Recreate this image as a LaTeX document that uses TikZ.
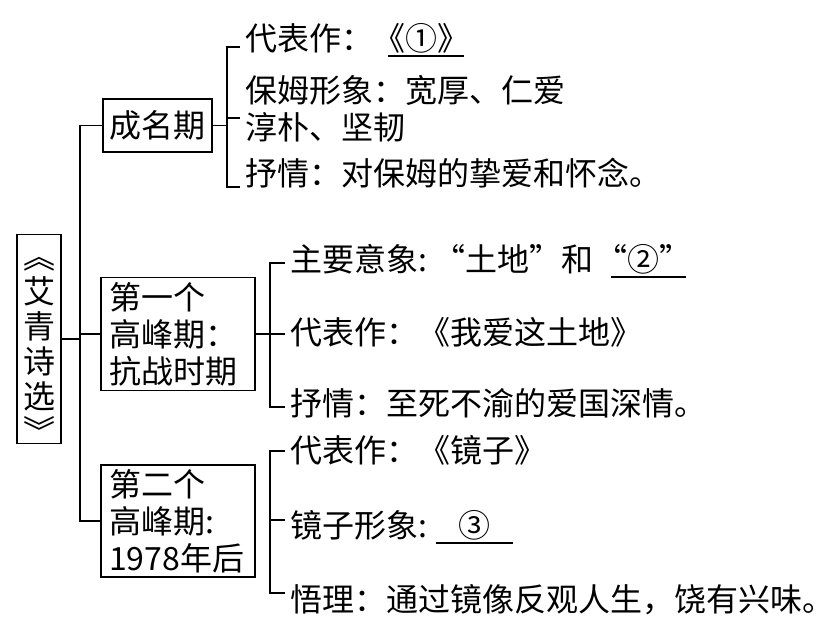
\documentclass[tikz,border=0pt]{standalone}
\usepackage{fontspec}
\setmainfont{Noto Sans CJK SC}
\usetikzlibrary{positioning,calc}

% underline for a blank: offset, width
\newcommand{\fillat}[2]{\rlap{\hspace{#1}\rule[-6pt]{#2}{1.3pt}}}

\tikzset{
  box/.style={draw, line width=1.2pt, inner sep=0pt, align=left},
  item/.style={anchor=west, inner sep=0pt},
}

\begin{document}
\begin{tikzpicture}[x=1pt,y=-1pt,line width=1.2pt,font=\fontsize{32}{37}\selectfont]
    \useasboundingbox (0,0) rectangle (837,634);

    % Root box
    \node[box, minimum width=44pt, minimum height=192pt, align=center, text height=209pt, text depth=-17pt,
          font=\fontsize{32}{35}\selectfont] (root) at (39,339) {︽\\艾\\青\\诗\\选\\︾};

    % Stage 1
    \node[box, minimum width=109pt, minimum height=53pt] (b1) at (157.5,125.5) {成名期};
    \node[item] (p11) at (245,40) {代表作：\fillat{14pt}{76pt}《①》};
    \node[item] (p12) at (245,90) {保姆形象：宽厚、仁爱};
    \node[item] (p13) at (245,127) {淳朴、坚韧};
    \node[item] (p14) at (245,173) {抒情：对保姆的挚爱和怀念。};
    \coordinate (k11) at (240,47);
    \coordinate (k12) at (240,118);
    \coordinate (k13) at (240,187);
    \draw (k11) -- ++(-13,0) |- (k13); % bracket
    \draw (k12) -- ++(-13,0);
    \draw (b1.east) -- ++(15,0);

    % Stage 2
    \node[box, minimum width=154pt, minimum height=113pt, text width=138pt] (b2) at (178,334) {第一个\\高峰期：\\抗战时期};
    \node[item] (p21) at (290,261) {主要意象:\hspace{6pt}“土地”和\hspace{2pt}\fillat{15pt}{75pt}“②”};
    \node[item] (p22) at (290,332) {代表作：《我爱这土地》};
    \node[item] (p23) at (290,403) {抒情：至死不渝的爱国深情。};
    \coordinate (k21) at (285,263);
    \coordinate (k22) at (285,334);
    \coordinate (k23) at (285,407);
    \draw (k21) -- ++(-15,0) |- (k23); % bracket
    \draw (k22) -- ++(-15,0);
    \draw (b2.east) -- ++(15,0);

    % Stage 3
    \node[box, minimum width=154pt, minimum height=112pt, text width=138pt] (b3) at (178,521) {第二个\\高峰期:\\1978年后};
    \node[item] (p31) at (290,450) {代表作：《镜子》};
    \node[item] (p32) at (290,527) {镜子形象:\hspace{8pt}\fillat{0pt}{77pt}\makebox[77pt]{③}};
    \node[item] (p33) at (290,600) {悟理：通过镜像反观人生，饶有兴味。};
    \coordinate (k31) at (285,451);
    \coordinate (k32) at (285,520);
    \coordinate (k33) at (285,593);
    \draw (k31) -- ++(-15,0) |- (k33); % bracket
    \draw (k32) -- ++(-15,0);

    % Trunk
    \coordinate (trunk) at (80,0);
    \draw (root.east) -- (root.east -| trunk);
    \draw (b1.west) -| (trunk |- b3.west) -- (b3.west);
    \draw (b2.west) -- (b2.west -| trunk);
\end{tikzpicture}
\end{document}
